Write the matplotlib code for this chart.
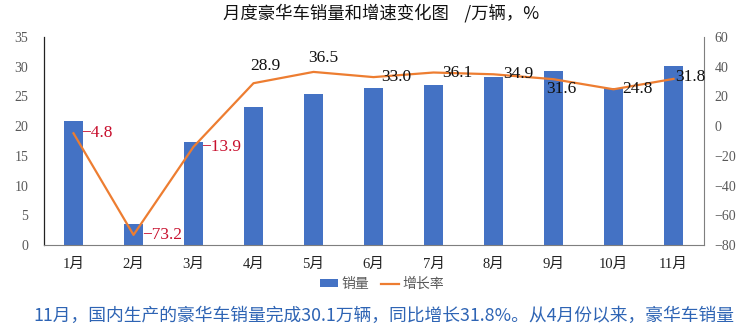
import matplotlib
matplotlib.use("Agg")
import matplotlib.pyplot as plt
from matplotlib.patches import Patch
from matplotlib.lines import Line2D

months = ["1月", "2月", "3月", "4月", "5月", "6月", "7月", "8月", "9月", "10月", "11月"]
sales = [20.9, 3.5, 17.4, 23.3, 25.4, 26.4, 26.9, 28.2, 29.2, 26.4, 30.1]
growth = [-4.8, -73.2, -13.9, 28.9, 36.5, 33.0, 36.1, 34.9, 31.6, 24.8, 31.8]

left_ticks = [0, 5, 10, 15, 20, 25, 30, 35]
right_ticks = [-80, -60, -40, -20, 0, 20, 40, 60]

BAR = "#4472C4"
LINE = "#ED7D31"
RED = "#C8102E"
GREY = "#595959"
NUM_FONT = ["Liberation Serif", "Noto Sans CJK SC"]
CJK_FONT = ["Noto Sans CJK SC", "DejaVu Sans"]

fig = plt.figure(figsize=(7.44, 3.29), dpi=100)
ax = fig.add_axes([43.5 / 744, 1 - 245 / 329, 660 / 744, 208 / 329])
ax2 = ax.twinx()

x = list(range(len(months)))
ax.bar(x, sales, width=0.32, color=BAR, zorder=2)
ax.set_xlim(-0.5, len(months) - 0.5)
ax.set_ylim(0, 35)
ax.set_yticks(left_ticks)
ax.set_yticklabels([str(v) for v in left_ticks], fontfamily=NUM_FONT, fontsize=10, color=GREY)
ax.set_xticks(x)
ax.set_xticklabels(months, fontfamily=NUM_FONT, fontsize=10.5, color="#222222")
ax.tick_params(axis="both", length=0)
ax.tick_params(axis="y", pad=11)
ax.tick_params(axis="x", pad=9)

ax2.plot(x, growth, color=LINE, lw=1.6, zorder=3)
ax2.set_ylim(-80, 60)
ax2.set_yticks(right_ticks)
ax2.set_yticklabels([str(v).replace("-", "−") for v in right_ticks], fontfamily=NUM_FONT,
                    fontsize=10, color=GREY)
ax2.tick_params(axis="y", length=0, pad=8)

for a in (ax, ax2):
    a.spines["top"].set_visible(False)
ax.spines["left"].set_color("#222222")
ax.spines["left"].set_linewidth(0.9)
ax.spines["bottom"].set_color("#7F7F7F")
ax.spines["right"].set_visible(False)
ax2.spines["left"].set_visible(False)
ax2.spines["bottom"].set_visible(False)
ax2.spines["right"].set_color("#7F7F7F")

# data labels: (dx, dy) in pixels relative to each point
offsets = [(8, 0), (9, 0), (8, 0), (-3, 17), (-5, 14), (8, 0),
           (8.5, 0), (9.5, 0), (-7, -10), (9, 0), (2, 2)]
for i, (g, (dx, dy)) in enumerate(zip(growth, offsets)):
    col = RED if g < 0 else "#111111"
    txt = f"{g:.1f}".replace("-", "−")
    ax2.annotate(txt, (i, g), xytext=(dx, dy), textcoords="offset pixels",
                 ha="left", va="center", fontsize=12.5, color=col,
                 fontfamily=NUM_FONT, zorder=4)

fig.text(381 / 744, 1 - 13 / 329, "月度豪华车销量和增速变化图    /万辆，%",
         ha="center", va="center", fontsize=12.5, fontfamily=CJK_FONT, color="#111111")

handles = [Patch(facecolor=BAR, edgecolor="none"),
           Line2D([0], [0], color=LINE, lw=1.6)]
fig.legend(handles, ["销量", "增长率"], loc="center", bbox_to_anchor=(382 / 744, 1 - 284 / 329),
           ncol=2, frameon=False, prop={"family": CJK_FONT, "size": 10},
           labelcolor=GREY, handlelength=1.3, handleheight=0.5, handletextpad=0.3,
           columnspacing=0.8)

fig.text(33 / 744, 1 - 316 / 329,
         "11月，国内生产的豪华车销量完成30.1万辆，同比增长31.8%。从4月份以来，豪华车销量",
         ha="left", va="center", fontsize=12.8, fontfamily=CJK_FONT, color="#2E64B4")

fig.savefig("out.png", dpi=100)
